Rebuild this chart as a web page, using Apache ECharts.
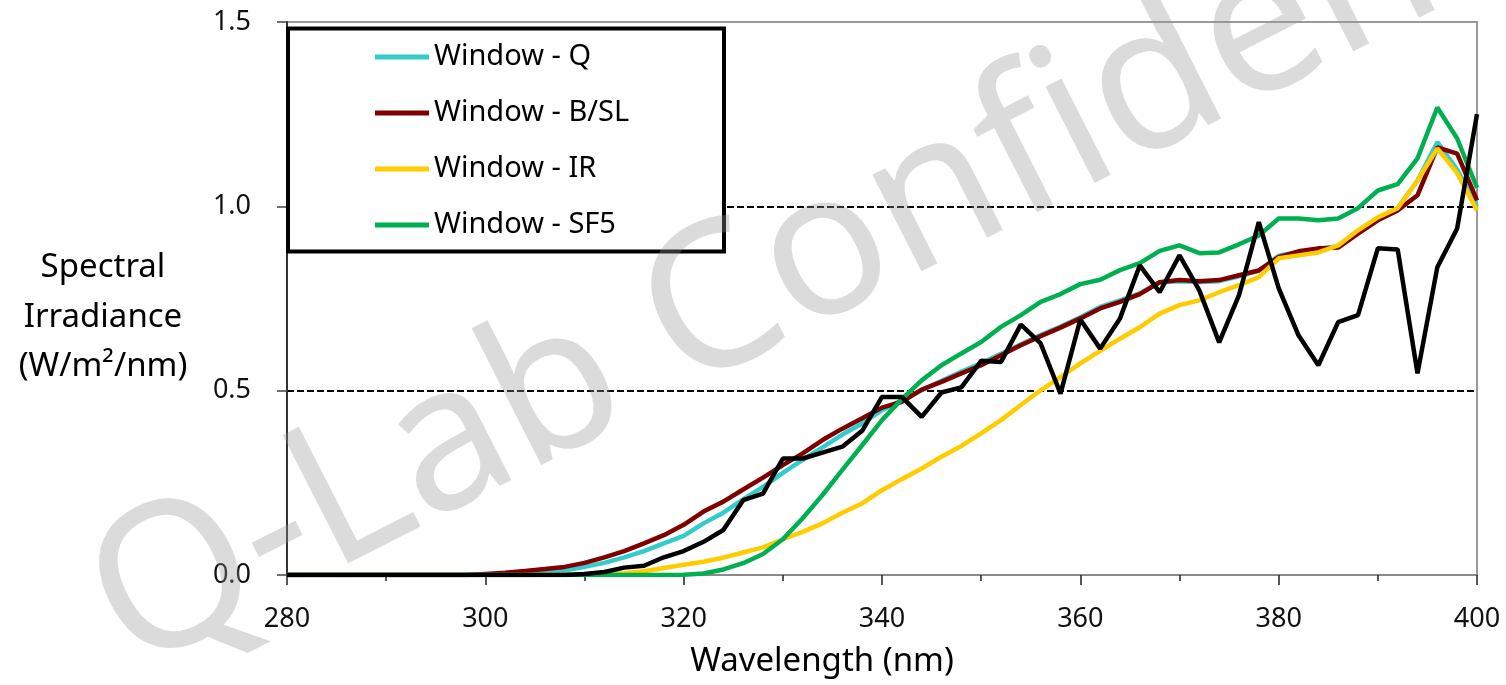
<!DOCTYPE html>
<html>
<head>
    <meta charset="utf-8">
    <title>Spectral Irradiance</title>
    <script src="https://cdn.jsdelivr.net/npm/echarts@6/dist/echarts.min.js"></script>
    <style>
        html, body { margin: 0; padding: 0; background: #fff; }
        #chart { width: 1506px; height: 685px; }
    </style>
</head>
<body>
    <div id="chart"></div>
    <script>
        // wavelength (nm), 2 nm steps
        var wavelength = [280, 282, 284, 286, 288, 290, 292, 294, 296, 298,
            300, 302, 304, 306, 308, 310, 312, 314, 316, 318,
            320, 322, 324, 326, 328, 330, 332, 334, 336, 338,
            340, 342, 344, 346, 348, 350, 352, 354, 356, 358,
            360, 362, 364, 366, 368, 370, 372, 374, 376, 378,
            380, 382, 384, 386, 388, 390, 392, 394, 396, 398, 400];

        var windowQ = [0, 0, 0, 0, 0, 0, 0, 0, 0, 0,
            0.001, 0.002, 0.004, 0.007, 0.012, 0.022, 0.033, 0.048, 0.065, 0.086,
            0.106, 0.14, 0.169, 0.205, 0.239, 0.277, 0.312, 0.346, 0.381, 0.411,
            0.447, 0.474, 0.501, 0.527, 0.552, 0.574, 0.6, 0.626, 0.651, 0.674,
            0.699, 0.727, 0.745, 0.764, 0.794, 0.797, 0.795, 0.797, 0.81, 0.826,
            0.866, 0.876, 0.884, 0.892, 0.93, 0.968, 0.995, 1.07, 1.174, 1.10, 1.0];

        var windowBSL = [0, 0, 0, 0, 0, 0, 0, 0, 0, 0,
            0.003, 0.006, 0.011, 0.016, 0.022, 0.033, 0.048, 0.065, 0.086, 0.108,
            0.136, 0.172, 0.199, 0.232, 0.264, 0.298, 0.33, 0.366, 0.397, 0.425,
            0.454, 0.47, 0.503, 0.524, 0.547, 0.569, 0.596, 0.623, 0.648, 0.671,
            0.696, 0.723, 0.741, 0.762, 0.794, 0.80, 0.797, 0.80, 0.813, 0.826,
            0.862, 0.878, 0.886, 0.888, 0.926, 0.962, 0.989, 1.03, 1.16, 1.143, 1.016];

        var windowIR = [0, 0, 0, 0, 0, 0, 0, 0, 0, 0,
            0, 0, 0, 0.001, 0.001, 0.002, 0.003, 0.005, 0.01, 0.019,
            0.028, 0.036, 0.047, 0.061, 0.075, 0.097, 0.117, 0.14, 0.169, 0.194,
            0.23, 0.26, 0.289, 0.321, 0.35, 0.384, 0.42, 0.461, 0.501, 0.537,
            0.574, 0.608, 0.641, 0.672, 0.709, 0.732, 0.745, 0.767, 0.786, 0.808,
            0.859, 0.867, 0.875, 0.894, 0.935, 0.97, 0.995, 1.07, 1.157, 1.09, 0.989];

        var windowSF5 = [0, 0, 0, 0, 0, 0, 0, 0, 0, 0,
            0, 0, 0, 0, 0, 0, 0, 0, 0, 0,
            0.001, 0.004, 0.015, 0.032, 0.057, 0.097, 0.154, 0.217, 0.285, 0.352,
            0.42, 0.477, 0.528, 0.569, 0.601, 0.632, 0.673, 0.705, 0.741, 0.762,
            0.789, 0.801, 0.827, 0.846, 0.879, 0.894, 0.873, 0.875, 0.897, 0.921,
            0.967, 0.967, 0.962, 0.967, 0.995, 1.043, 1.06, 1.13, 1.268, 1.184, 1.05];

        // black reference curve (not in legend)
        var sunlight = [0, 0, 0, 0, 0, 0, 0, 0, 0, 0,
            0, 0, 0, 0, 0, 0.003, 0.008, 0.02, 0.025, 0.048,
            0.065, 0.09, 0.122, 0.203, 0.221, 0.316, 0.316, 0.332, 0.348, 0.391,
            0.483, 0.483, 0.429, 0.495, 0.509, 0.581, 0.578, 0.679, 0.628, 0.492,
            0.693, 0.614, 0.696, 0.84, 0.767, 0.867, 0.772, 0.631, 0.759, 0.957,
            0.778, 0.65, 0.569, 0.686, 0.705, 0.886, 0.883, 0.547, 0.835, 0.94, 1.25];

        var legendNames = ['Window - Q', 'Window - B/SL', 'Window - IR', 'Window - SF5'];

        var font = '"Noto Sans", "Open Sans", sans-serif';

        function pairs(values) {
            return wavelength.map(function (w, i) { return [w, values[i]]; });
        }

        function lineSeries(name, values, color, z) {
            return {
                name: name,
                type: 'line',
                data: pairs(values),
                symbol: 'none',
                smooth: false,
                z: z,
                lineStyle: { color: color, width: 4.5 },
                itemStyle: { color: color }
            };
        }

        var chart = echarts.init(document.getElementById('chart'));

        var option = {
            animation: false,
            grid: {
                left: 287, right: 29, top: 22, bottom: 110,
                show: true,
                borderColor: '#9a9a9a',
                borderWidth: 2,
                backgroundColor: 'transparent'
            },
            legend: {
                data: legendNames,
                orient: 'vertical',
                left: 370,
                top: 36,
                itemWidth: 54,
                itemHeight: 5,
                itemGap: 24,
                icon: 'rect',
                z: 20,
                textStyle: {
                    fontFamily: font,
                    fontSize: 29,
                    color: '#000',
                    lineHeight: 32
                }
            },
            xAxis: {
                type: 'value',
                min: 280,
                max: 400,
                interval: 20,
                axisLine: { show: true, lineStyle: { color: '#8a8a8a', width: 2 } },
                axisTick: { show: true, inside: false, length: 10, lineStyle: { color: '#222', width: 1.5 } },
                minorTick: { show: true, splitNumber: 2, length: 6, lineStyle: { color: '#222', width: 1.5 } },
                splitLine: { show: false },
                axisLabel: {
                    margin: 31,
                    fontFamily: font,
                    fontSize: 27,
                    color: '#111'
                }
            },
            yAxis: {
                type: 'value',
                min: 0,
                max: 1.5,
                interval: 0.5,
                axisLine: { show: true, lineStyle: { color: '#333', width: 2 } },
                axisTick: { show: true, inside: false, length: 10, lineStyle: { color: '#444', width: 1.5 } },
                splitLine: {
                    show: true,
                    lineStyle: {
                        color: ['transparent', '#000', '#000', 'transparent'],
                        type: [7, 3],
                        width: 2
                    }
                },
                axisLabel: {
                    margin: 36,
                    fontFamily: font,
                    fontSize: 27,
                    color: '#111',
                    formatter: function (v) { return v.toFixed(1); }
                }
            },
            graphic: [
                {
                    type: 'rect',
                    z: 10,
                    shape: { x: 288, y: 28.5, width: 436, height: 223 },
                    style: { fill: '#fff', stroke: '#000', lineWidth: 4 }
                },
                {
                    type: 'text',
                    z: 10,
                    x: 103,
                    y: 243,
                    style: {
                        text: 'Spectral\nIrradiance\n(W/m²/nm)',
                        align: 'center',
                        verticalAlign: 'top',
                        fontFamily: font,
                        fontSize: 33,
                        lineHeight: 49.5,
                        fill: '#000'
                    }
                },
                {
                    type: 'text',
                    z: 10,
                    x: 822,
                    y: 662,
                    style: {
                        text: 'Wavelength (nm)',
                        align: 'center',
                        verticalAlign: 'middle',
                        fontFamily: font,
                        fontSize: 33,
                        fill: '#000'
                    }
                },
                {
                    type: 'text',
                    z: 100,
                    silent: true,
                    x: 152,
                    y: 712,
                    rotation: 27 * Math.PI / 180,
                    style: {
                        text: 'Q-Lab Confidential',
                        fontFamily: font,
                        fontSize: 202,
                        fill: 'rgba(150,150,150,0.34)',
                        align: 'left',
                        verticalAlign: 'bottom'
                    }
                }
            ],
            series: [
                lineSeries('Window - Q', windowQ, '#33cccc', 2),
                lineSeries('Window - B/SL', windowBSL, '#800000', 3),
                lineSeries('Window - IR', windowIR, '#ffcc00', 4),
                lineSeries('Window - SF5', windowSF5, '#00b050', 5),
                lineSeries('', sunlight, '#000000', 6)
            ]
        };

        chart.setOption(option);
    </script>
</body>
</html>
